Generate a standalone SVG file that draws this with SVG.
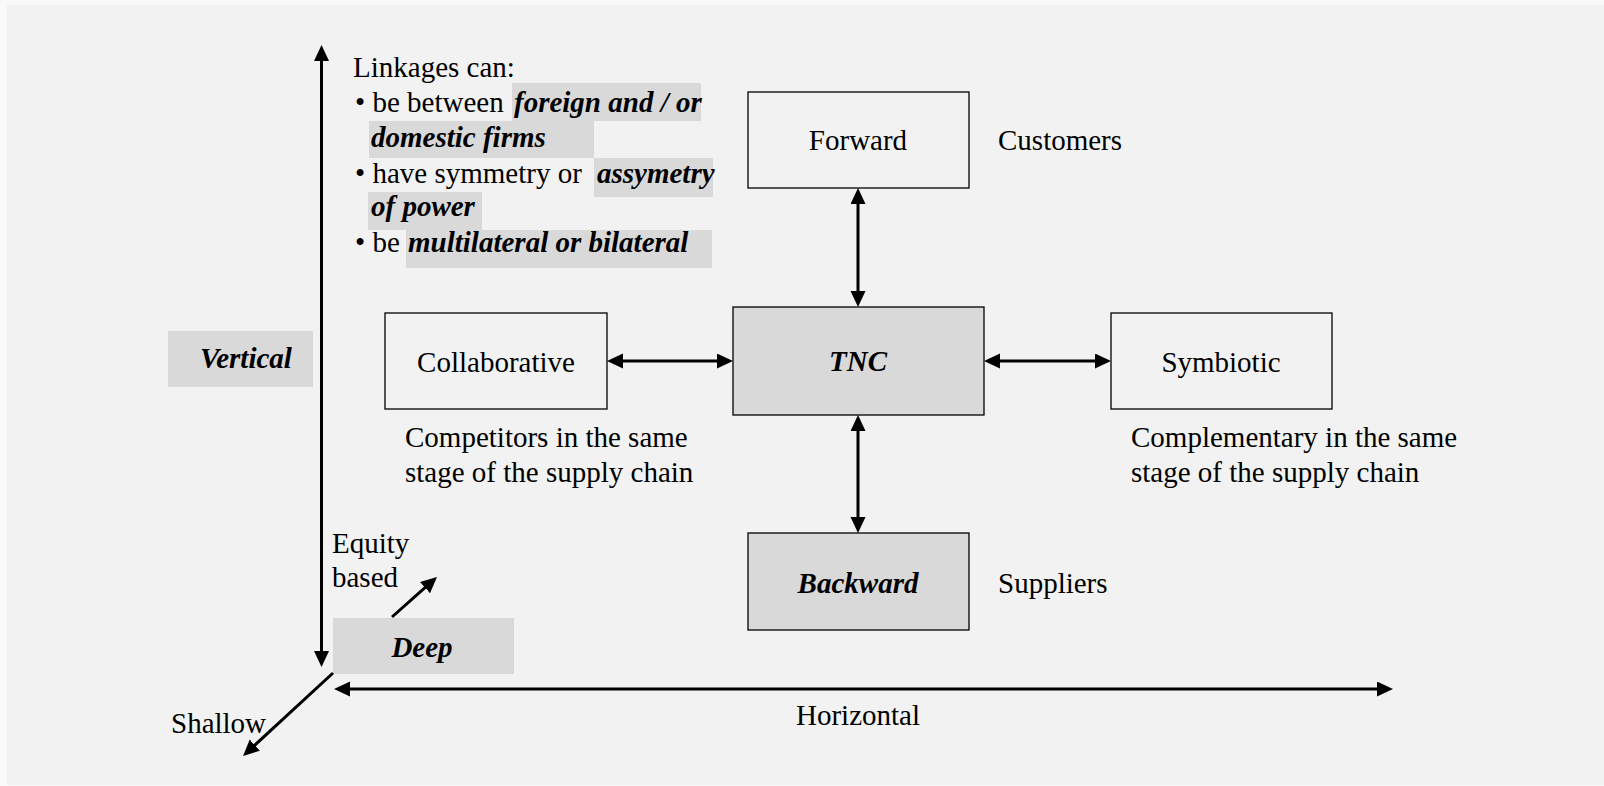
<svg xmlns="http://www.w3.org/2000/svg" width="1604" height="786" viewBox="0 0 1604 786">
<style>
text{font-family:"Liberation Serif","Times New Roman",serif;font-size:29px;fill:#000}
.bi{font-weight:bold;font-style:italic}
.mid{text-anchor:middle}
.box{fill:none;stroke:#000;stroke-width:1.3}
.boxg{fill:#d9d9d9;stroke:#000;stroke-width:1.3}
.hl{fill:#d9d9d9}
.ln{stroke:#000;stroke-width:3;fill:none}
</style>
<defs>
<marker id="ah" markerUnits="userSpaceOnUse" markerWidth="16" markerHeight="16" refX="6" refY="7.5" orient="auto-start-reverse">
<path d="M0,0 L16,7.5 L0,15 z" fill="#000"/>
</marker>
</defs>
<rect width="1604" height="786" fill="#fafafa"/>
<rect x="7" y="5" width="1597" height="780" fill="#f2f2f2"/>

<g id="linkages-note">
<rect class="hl" x="512" y="83" width="189" height="38"/>
<rect class="hl" x="369" y="121" width="225" height="37"/>
<rect class="hl" x="594" y="158" width="119" height="39"/>
<rect class="hl" x="368" y="192" width="114" height="38"/>
<rect class="hl" x="406" y="230" width="306" height="38"/>
<text x="353" y="77">Linkages can:</text>
<text x="355" y="112">• be between <tspan class="bi" x="514">foreign and / or</tspan></text>
<text class="bi" x="371" y="147">domestic firms</text>
<text x="355" y="183">• have symmetry or <tspan class="bi" x="597">assymetry</tspan></text>
<text class="bi" x="371" y="216">of power</text>
<text x="355" y="252">• be <tspan class="bi" x="408">multilateral or bilateral</tspan></text>
</g>

<g id="vertical">
<rect class="hl" x="168" y="331" width="145" height="56"/>
<text class="bi mid" x="246" y="368">Vertical</text>
</g>

<g id="deep">
<rect class="hl" x="333" y="618" width="181" height="56"/>
<text class="bi mid" x="422" y="657">Deep</text>
</g>

<g id="forward">
<rect class="box" x="748" y="92" width="221" height="96"/>
<text class="mid" x="858" y="150">Forward</text>
</g>
<g id="tnc">
<rect class="boxg" x="733" y="307" width="251" height="108"/>
<text class="bi mid" x="858" y="371">TNC</text>
</g>
<g id="collaborative">
<rect class="box" x="385" y="313" width="222" height="96"/>
<text class="mid" x="496" y="372">Collaborative</text>
</g>
<g id="symbiotic">
<rect class="box" x="1111" y="313" width="221" height="96"/>
<text class="mid" x="1221" y="372">Symbiotic</text>
</g>
<g id="backward">
<rect class="boxg" x="748" y="533" width="221" height="97"/>
<text class="bi mid" x="858" y="593">Backward</text>
</g>

<g id="labels">
<text x="998" y="150">Customers</text>
<text x="998" y="593">Suppliers</text>
<text x="405" y="447">Competitors in the same</text>
<text x="405" y="482">stage of the supply chain</text>
<text x="1131" y="447">Complementary in the same</text>
<text x="1131" y="482">stage of the supply chain</text>
<text x="332" y="553">Equity</text>
<text x="332" y="587">based</text>
<text x="171" y="733">Shallow</text>
<text class="mid" x="858" y="725">Horizontal</text>
</g>

<g id="connectors">
<line class="ln" x1="321.5" y1="55" x2="321.5" y2="657" marker-start="url(#ah)" marker-end="url(#ah)"/>
<line class="ln" x1="344" y1="689" x2="1383" y2="689" marker-start="url(#ah)" marker-end="url(#ah)"/>
<line class="ln" x1="333" y1="673" x2="250.4" y2="749.2" marker-end="url(#ah)"/>
<line class="ln" x1="392" y1="617" x2="429.5" y2="583.6" marker-end="url(#ah)"/>
<line class="ln" x1="858" y1="198" x2="858" y2="297" marker-start="url(#ah)" marker-end="url(#ah)"/>
<line class="ln" x1="858" y1="425" x2="858" y2="523" marker-start="url(#ah)" marker-end="url(#ah)"/>
<line class="ln" x1="617" y1="361" x2="723" y2="361" marker-start="url(#ah)" marker-end="url(#ah)"/>
<line class="ln" x1="994" y1="361" x2="1101" y2="361" marker-start="url(#ah)" marker-end="url(#ah)"/>
</g>
</svg>
